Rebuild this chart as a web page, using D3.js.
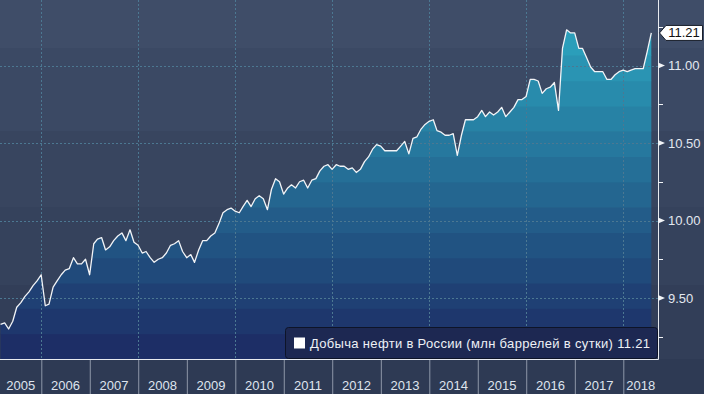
<!DOCTYPE html>
<html>
<head>
<meta charset="utf-8">
<script src="https://cdn.jsdelivr.net/npm/d3@7"></script>
<style>
  body { margin: 0; background: #2e3a54; }
  svg { display: block; font-family: "Liberation Sans", Arial, sans-serif; }
</style>
</head>
<body>
<svg id="chart" width="704" height="394"></svg>
<script>
// Monthly oil output, mln barrels per day; first value is end of Feb 2005
var startMonth = new Date(2005, 1, 1);
var production = [
    9.33, 9.34, 9.30, 9.35, 9.44, 9.47, 9.51, 9.54, 9.58, 9.61,
    9.65, 9.45, 9.46, 9.57, 9.61, 9.65, 9.68, 9.69, 9.76, 9.72,
    9.72, 9.75, 9.65, 9.85, 9.88, 9.89, 9.81, 9.83, 9.87, 9.90,
    9.92, 9.87, 9.94, 9.86, 9.84, 9.79, 9.80, 9.76, 9.73, 9.75,
    9.76, 9.79, 9.84, 9.85, 9.87, 9.80, 9.76, 9.78, 9.73, 9.81,
    9.87, 9.87, 9.90, 9.92, 9.98, 10.05, 10.07, 10.08, 10.06, 10.05,
    10.09, 10.13, 10.09, 10.14, 10.16, 10.14, 10.07, 10.20, 10.27, 10.25,
    10.17, 10.21, 10.23, 10.21, 10.25, 10.26, 10.21, 10.26, 10.27, 10.32,
    10.35, 10.36, 10.33, 10.36, 10.35, 10.35, 10.33, 10.34, 10.31, 10.33,
    10.38, 10.41, 10.46, 10.49, 10.48, 10.45, 10.45, 10.45, 10.45, 10.48,
    10.51, 10.43, 10.53, 10.54, 10.59, 10.62, 10.64, 10.65, 10.58, 10.57,
    10.55, 10.55, 10.56, 10.42, 10.55, 10.65, 10.65, 10.65, 10.67, 10.71,
    10.67, 10.70, 10.68, 10.70, 10.73, 10.67, 10.70, 10.73, 10.78, 10.78,
    10.80, 10.91, 10.91, 10.90, 10.82, 10.85, 10.86, 10.89, 10.71, 11.11,
    11.23, 11.21, 11.21, 11.11, 11.11, 11.05, 10.99, 10.96, 10.96, 10.96,
    10.91, 10.91, 10.94, 10.96, 10.97, 10.96, 10.97, 10.98, 10.98, 10.98,
    11.09, 11.21
];
var yearLabels = [2005, 2006, 2007, 2008, 2009, 2010, 2011, 2012, 2013, 2014, 2015, 2016, 2017, 2018];
var gridYears = [2006, 2008, 2010, 2012, 2014, 2016, 2018];
var yTicks = [9.5, 10, 10.5, 11];
var yMinorTicks = [9.25, 9.75, 10.25, 10.75, 11.25];
var legendLabel = "Добыча нефти в России (млн баррелей в сутки)";

var width = 704, height = 394;
var plotRight = 658, plotBottom = 359;

var svg = d3.select("#chart");

// points at month end
var data = production.map(function(v, i) {
    var date = d3.timeDay.offset(d3.timeMonth.offset(startMonth, i + 1), -1);
    return {date: date, value: v};
});
var lastValue = production[production.length - 1];

var x = d3.scaleTime()
    .domain([new Date(2006, 0, 1), new Date(2018, 0, 1)])
    .range([41.3, 623.3]);

var y = d3.scaleLinear()
    .domain([9.5, 11])
    .range([298, 65.5]);

// banded background
var bgEdges = [0, 48, 131, 207, 285, plotBottom];
var bgColors = ["#3f4d68", "#3b4964", "#38455f", "#35425c", "#323e58"];
svg.selectAll("rect.bg")
    .data(bgColors)
    .enter()
    .append("rect")
    .attr("class", "bg")
    .attr("x", 0)
    .attr("y", (d, i) => bgEdges[i])
    .attr("width", width)
    .attr("height", (d, i) => bgEdges[i + 1] - bgEdges[i])
    .attr("fill", d => d);

// area clip + stepped gradient fill
var area = d3.area()
    .x(d => x(d.date))
    .y0(plotBottom)
    .y1(d => y(d.value));

svg.append("clipPath")
    .attr("id", "areaClip")
    .append("path")
    .attr("d", area(data));

var bandStep = 25.3;
var bands = d3.range(0, 15).map(k => plotBottom - bandStep * (k + 1));
var bandColor = d3.interpolateRgb("#1c2962", "#2b9fbb");

svg.append("g")
    .attr("clip-path", "url(#areaClip)")
    .selectAll("rect")
    .data(bands)
    .enter()
    .append("rect")
    .attr("x", 0)
    .attr("y", d => d)
    .attr("width", plotRight)
    .attr("height", bandStep + 0.5)
    .attr("fill", d => bandColor(Math.min(1, (plotBottom - d - bandStep / 2) / 320)));

// dotted grid
var grid = svg.append("g")
    .attr("stroke", "#4c7892")
    .attr("stroke-dasharray", "2,2")
    .attr("stroke-width", 1);

grid.selectAll("line.h")
    .data(yTicks)
    .enter()
    .append("line")
    .attr("x1", 0)
    .attr("x2", plotRight)
    .attr("y1", d => Math.round(y(d)) + 0.5)
    .attr("y2", d => Math.round(y(d)) + 0.5);

grid.selectAll("line.v")
    .data(gridYears)
    .enter()
    .append("line")
    .attr("x1", d => Math.round(x(new Date(d, 0, 1))) + 0.5)
    .attr("x2", d => Math.round(x(new Date(d, 0, 1))) + 0.5)
    .attr("y1", 0)
    .attr("y2", plotBottom);

// line
var line = d3.line()
    .x(d => x(d.date))
    .y(d => y(d.value));

svg.append("path")
    .datum(data)
    .attr("d", line)
    .attr("fill", "none")
    .attr("stroke", "#f2f4f7")
    .attr("stroke-width", 1.3)
    .attr("stroke-linejoin", "round");

// x axis panel
svg.append("rect")
    .attr("x", 0)
    .attr("y", plotBottom)
    .attr("width", width)
    .attr("height", height - plotBottom)
    .attr("fill", "#2e3a54");

var xAxis = d3.axisBottom(x)
    .tickValues(yearLabels.slice(1).map(yr => new Date(yr, 0, 1)))
    .tickSize(height - plotBottom)
    .tickFormat("");

var xg = svg.append("g")
    .attr("transform", "translate(0," + plotBottom + ")")
    .call(xAxis);
xg.select(".domain").remove();
xg.selectAll(".tick line").attr("stroke", "#8e97a8");

svg.selectAll("text.year")
    .data(yearLabels)
    .enter()
    .append("text")
    .attr("class", "year")
    .attr("x", function(d) {
        var a = Math.max(0, x(new Date(d, 0, 1)));
        var b = Math.min(plotRight, x(new Date(d + 1, 0, 1)));
        return (a + b) / 2;
    })
    .attr("y", 390)
    .attr("text-anchor", "middle")
    .attr("fill", "#dfe4ee")
    .attr("font-size", 13)
    .text(d => d);

// axis lines
svg.append("line")
    .attr("x1", 0).attr("x2", plotRight + 0.5)
    .attr("y1", plotBottom + 0.5).attr("y2", plotBottom + 0.5)
    .attr("stroke", "#e8ebf0");
svg.append("line")
    .attr("x1", plotRight + 0.5).attr("x2", plotRight + 0.5)
    .attr("y1", 0).attr("y2", plotBottom + 0.5)
    .attr("stroke", "#e8ebf0");

// y axis
var yAxis = d3.axisRight(y)
    .tickValues(yTicks)
    .tickSize(0)
    .tickPadding(10)
    .tickFormat(d3.format(".2f"));

var yg = svg.append("g")
    .attr("transform", "translate(" + plotRight + ",0)")
    .call(yAxis);
yg.select(".domain").remove();
yg.selectAll(".tick text")
    .attr("fill", "#e3e8f0")
    .attr("font-size", 13)
    .attr("font-family", "Liberation Sans, Arial, sans-serif");

svg.selectAll("path.tri")
    .data(yTicks)
    .enter()
    .append("path")
    .attr("class", "tri")
    .attr("d", d => "M" + plotRight + "," + (y(d) - 3) + "L" + (plotRight + 7) + "," + y(d) + "L" + plotRight + "," + (y(d) + 3) + "Z")
    .attr("fill", "#f2f4f7");

svg.selectAll("line.minor")
    .data(yMinorTicks)
    .enter()
    .append("line")
    .attr("class", "minor")
    .attr("x1", plotRight)
    .attr("x2", plotRight + 5)
    .attr("y1", d => Math.round(y(d)) + 0.5)
    .attr("y2", d => Math.round(y(d)) + 0.5)
    .attr("stroke", "#f2f4f7");

// last value tag
var ly = y(lastValue);
svg.append("path")
    .attr("d", "M" + (plotRight + 1.5) + "," + ly + "L" + (plotRight + 8) + "," + (ly - 7.5) +
        "L" + 702.5 + "," + (ly - 7.5) + "L" + 702.5 + "," + (ly + 7.5) +
        "L" + (plotRight + 8) + "," + (ly + 7.5) + "Z")
    .attr("fill", "#ffffff")
    .attr("stroke", "#1a1f2b");
svg.append("text")
    .attr("x", 684)
    .attr("y", ly + 4.5)
    .attr("text-anchor", "middle")
    .attr("fill", "#111")
    .attr("font-size", 13)
    .text(d3.format(".2f")(lastValue));

// legend
var legend = svg.append("g");
legend.append("rect")
    .attr("x", 285.5)
    .attr("y", 327.5)
    .attr("width", 372)
    .attr("height", 31)
    .attr("rx", 3)
    .attr("fill", "#1d2852")
    .attr("stroke", "#0e1428");
legend.append("rect")
    .attr("x", 294)
    .attr("y", 337.5)
    .attr("width", 11)
    .attr("height", 11)
    .attr("fill", "#ffffff");
legend.append("text")
    .attr("x", 310)
    .attr("y", 348)
    .attr("fill", "#eef1f6")
    .attr("font-size", 13)
    .attr("textLength", 340)
    .attr("lengthAdjust", "spacing")
    .text(legendLabel + " " + d3.format(".2f")(lastValue));
</script>
</body>
</html>
